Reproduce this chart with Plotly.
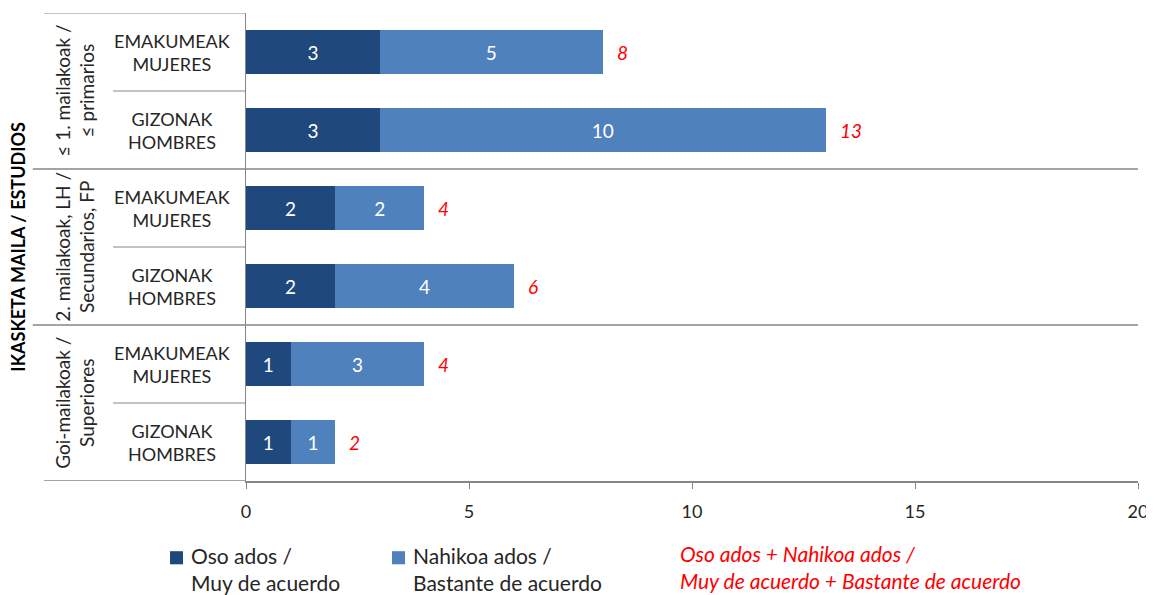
import plotly.graph_objects as go

# data
rows = ["EMAKUMEAK<br>MUJERES", "GIZONAK<br>HOMBRES",
        "EMAKUMEAK<br>MUJERES", "GIZONAK<br>HOMBRES",
        "EMAKUMEAK<br>MUJERES", "GIZONAK<br>HOMBRES"]
groups = ["≤ 1. mailakoak /<br>≤ primarios",
          "2. mailakoak, LH /<br>Secundarios, FP",
          "Goi-mailakoak /<br>Superiores"]
oso_ados = [3, 3, 2, 2, 1, 1]
nahikoa_ados = [5, 10, 2, 4, 3, 1]
totals = [a + b for a, b in zip(oso_ados, nahikoa_ados)]
x_ticks = [0, 5, 10, 15, 20]

DARK = "#1F497D"
LIGHT = "#4F81BD"
GRID = "#868686"
FONT = "Lato, Open Sans, sans-serif"

ypos = list(range(len(rows)))

fig = go.Figure()
for vals, col in [(oso_ados, DARK), (nahikoa_ados, LIGHT)]:
    fig.add_trace(go.Bar(
        y=ypos, x=vals, orientation="h", marker=dict(color=col, line=dict(width=0)),
        width=0.57, text=vals, textposition="inside", insidetextanchor="middle",
        constraintext="none", textangle=0,
        textfont=dict(color="white", size=19, family=FONT), showlegend=False,
    ))

shapes = []
# inner separators between women / men rows
for g in range(len(groups)):
    shapes.append(dict(type="line", xref="paper", yref="y", x0=-0.149, x1=0,
                       y0=2 * g + 0.5, y1=2 * g + 0.5, line=dict(color=GRID, width=1)))
# group separators across the whole chart
for g in range(1, len(groups)):
    shapes.append(dict(type="line", xref="paper", yref="y", x0=-0.239, x1=1,
                       y0=2 * g - 0.5, y1=2 * g - 0.5, line=dict(color=GRID, width=1.5)))
# top and bottom borders of the label table
shapes.append(dict(type="line", xref="paper", yref="y", x0=-0.2265, x1=0,
                   y0=-0.5, y1=-0.5, line=dict(color=GRID, width=1)))
shapes.append(dict(type="line", xref="paper", yref="y", x0=-0.2265, x1=0,
                   y0=len(rows) - 0.5, y1=len(rows) - 0.5, line=dict(color=GRID, width=1.5)))

annotations = []
# totals in red italic
for i, t in enumerate(totals):
    annotations.append(dict(xref="x", yref="y", x=t, y=i, text=f"<i>{t}</i>", showarrow=False,
                            xanchor="left", yanchor="middle", xshift=12,
                            font=dict(size=19, color="#FF0000", family=FONT)))
for i, r in enumerate(rows):
    annotations.append(dict(xref="paper", yref="y", x=-0.083, y=i, text=r, showarrow=False,
                            xanchor="center", yanchor="middle", align="center",
                            font=dict(size=18, color="#262626", family=FONT)))
for g, lab in enumerate(groups):
    annotations.append(dict(xref="paper", yref="y", x=-0.192, y=2 * g + 0.5, text=lab,
                            showarrow=False, textangle=-90, xanchor="center", yanchor="middle",
                            align="center", font=dict(size=19, color="#262626", family=FONT)))
annotations.append(dict(xref="paper", yref="y", x=-0.256, y=2.5,
                        text="<b>IKASKETA MAILA / ESTUDIOS</b>", showarrow=False, textangle=-90,
                        xanchor="center", yanchor="middle",
                        font=dict(size=18, color="black", family=FONT)))

# legend drawn as annotations + squares
legend_items = [
    ("Oso ados /<br>Muy de acuerdo", DARK, -0.0852),
    ("Nahikoa ados /<br>Bastante de acuerdo", LIGHT, 0.1637),
]
for txt, col, x0 in legend_items:
    shapes.append(dict(type="rect", xref="paper", yref="paper", x0=x0, x1=x0 + 0.0146,
                       y0=-0.178, y1=-0.150, fillcolor=col, line=dict(width=0)))
    annotations.append(dict(xref="paper", yref="paper", x=x0 + 0.0215, y=-0.128, text=txt,
                            showarrow=False, xanchor="left", yanchor="top", align="left",
                            font=dict(size=21, color="#262626", family=FONT)))
annotations.append(dict(xref="paper", yref="paper", x=0.4843, y=-0.124,
                        text="<i>Oso ados + Nahikoa ados /<br>Muy de acuerdo + Bastante de acuerdo</i>",
                        showarrow=False, xanchor="left", yanchor="top", align="left",
                        font=dict(size=21, color="#FF0000", family=FONT)))

fig.update_layout(
    barmode="stack",
    width=1146, height=587,
    margin=dict(l=238, r=16, t=5, b=114),
    plot_bgcolor="white", paper_bgcolor="white",
    shapes=shapes, annotations=annotations,
    xaxis=dict(range=[0, 20], tickvals=x_ticks, showgrid=False, zeroline=False,
               showline=True, linecolor=GRID, linewidth=1.5, ticks="outside", ticklen=6,
               ticklabelstandoff=8,
               tickcolor=GRID, tickfont=dict(size=18, color="#262626", family=FONT)),
    yaxis=dict(range=[len(rows) - 0.5, -0.5], showticklabels=False, showgrid=False,
               zeroline=False, showline=True, linecolor=GRID, linewidth=1, ticks=""),
)

fig.write_html("out.html")
